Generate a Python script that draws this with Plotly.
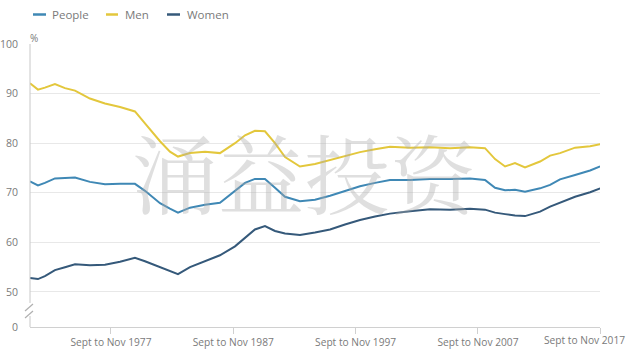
import plotly.graph_objects as go

# decimal-year positions of the readings (rolling 3-month periods)
years = [1971.17, 1971.82, 1972.39, 1973.21, 1974.03, 1974.85, 1976.07, 1977.30, 1978.53, 1979.75,
         1980.57, 1981.80, 1982.61, 1983.27, 1984.25, 1985.48, 1986.70, 1987.93, 1988.75, 1989.56,
         1990.38, 1991.20, 1992.02, 1993.24, 1994.47, 1995.70, 1996.92, 1998.15, 1999.38, 2000.60,
         2002.24, 2003.87, 2005.51, 2007.14, 2008.37, 2009.19, 2010.01, 2010.82, 2011.64, 2012.87,
         2013.69, 2014.50, 2015.73, 2016.96, 2017.78]

men = [92.1, 90.8, 91.2, 91.9, 91.1, 90.6, 89.0, 88.0, 87.3, 86.4,
       84.0, 80.4, 78.3, 77.3, 78.0, 78.3, 78.0, 80.0, 81.6, 82.5,
       82.4, 80.0, 77.2, 75.3, 75.8, 76.6, 77.3, 78.2, 78.8, 79.3,
       79.1, 79.2, 79.0, 79.2, 79.0, 76.8, 75.3, 76.0, 75.1, 76.3,
       77.5, 78.0, 79.1, 79.4, 79.8]

people = [72.3, 71.5, 72.0, 72.9, 73.0, 73.1, 72.2, 71.7, 71.8, 71.8,
          70.4, 67.9, 66.8, 66.0, 67.0, 67.6, 68.0, 70.4, 72.0, 72.8,
          72.8, 71.0, 69.2, 68.3, 68.6, 69.4, 70.4, 71.3, 72.0, 72.6,
          72.6, 72.8, 72.8, 72.9, 72.6, 71.0, 70.5, 70.6, 70.2, 70.9,
          71.6, 72.7, 73.6, 74.5, 75.3]

women = [52.8, 52.6, 53.2, 54.4, 55.0, 55.6, 55.4, 55.5, 56.1, 56.9,
         56.2, 55.0, 54.3, 53.6, 55.0, 56.2, 57.4, 59.2, 61.0, 62.6,
         63.3, 62.3, 61.8, 61.5, 62.0, 62.6, 63.6, 64.5, 65.2, 65.8,
         66.3, 66.7, 66.6, 66.8, 66.6, 66.0, 65.7, 65.4, 65.3, 66.2,
         67.2, 68.0, 69.2, 70.1, 70.9]

x_tick_vals = [1977.79, 1987.79, 1997.79, 2007.79, 2017.77]
x_tick_text = ["Sept to Nov 1977", "Sept to Nov 1987", "Sept to Nov 1997",
               "Sept to Nov 2007", "Sept to Nov 2017"]

# broken y axis: "0" drawn just below 50
ZERO_POS = 42.94
y_tick_vals = [ZERO_POS, 50, 60, 70, 80, 90, 100]
y_tick_text = ["0", "50", "60", "70", "80", "90", "100"]

series_names = ["People", "Men", "Women"]
colors = ["#3f88b5", "#e3c73c", "#35597a"]
series = [people, men, women]

FONT = "Open Sans, Noto Sans, sans-serif"
GREY = "#7a7a7a"

fig = go.Figure()
for name, col, vals in zip(series_names, colors, series):
    fig.add_trace(go.Scatter(x=years, y=vals, mode="lines", name=name,
                             line=dict(color=col, width=2), showlegend=False,
                             hoverinfo="skip"))

W, H = 640, 356
ML, MR, MT, MB = 30, 40, 44, 29
pw = W - ML - MR
ph = H - MT - MB

def px2paper(px):
    return (px - ML) / pw

def py2paper(py):
    return 1 - (py - MT) / ph

shapes = []
annotations = []
# manual legend
leg = [(33, 46, 52), (106, 118, 125), (167, 180, 187)]
for (x0, x1, tx), name, col in zip(leg, series_names, colors):
    shapes.append(dict(type="line", xref="paper", yref="paper",
                       x0=px2paper(x0), x1=px2paper(x1),
                       y0=py2paper(14.5), y1=py2paper(14.5),
                       line=dict(color=col, width=2.5)))
    annotations.append(dict(text=name, xref="paper", yref="paper",
                            x=px2paper(tx - 2), y=py2paper(14.5),
                            xanchor="left", yanchor="middle", showarrow=False,
                            font=dict(family=FONT, size=11.5, color=GREY)))

# "%" unit label
annotations.append(dict(text="%", xref="paper", yref="paper", x=px2paper(28),
                        y=py2paper(38), xanchor="left", yanchor="middle",
                        showarrow=False, font=dict(family=FONT, size=10, color=GREY)))

# last x tick label sits left of its tick so it stays inside the picture
TICK_FONT = 10.2
annotations.append(dict(text=x_tick_text[-1], xref="paper", yref="paper",
                        x=px2paper(584), y=py2paper(340), xanchor="center", yanchor="middle",
                        showarrow=False, font=dict(family=FONT, size=TICK_FONT, color=GREY)))
x_tick_labels = x_tick_text[:-1] + [""]

# y axis line with break
def py2val(py):
    return 50 - (py - 292) / 4.96

shapes.append(dict(type="line", xref="paper", yref="y", x0=0, x1=0, y0=100, y1=py2val(303),
                   line=dict(color="#c8c8c8", width=1)))
shapes.append(dict(type="line", xref="paper", yref="y", x0=0, x1=0, y0=py2val(316), y1=ZERO_POS,
                   line=dict(color="#c8c8c8", width=1)))
for off in (0, 7):
    shapes.append(dict(type="line", xref="paper", yref="y",
                       x0=px2paper(25), x1=px2paper(33),
                       y0=py2val(311 + off), y1=py2val(304 + off),
                       line=dict(color="#b0b0b0", width=1.2)))

# watermark
annotations.append(dict(text="涌益投资", xref="paper", yref="paper",
                        x=px2paper(305), y=py2paper(171),
                        xanchor="center", yanchor="middle", showarrow=False,
                        font=dict(family="Noto Serif CJK SC, Noto Sans CJK SC", size=86,
                                  color="rgba(170,170,170,0.38)")))

fig.update_layout(
    width=W, height=H,
    margin=dict(l=ML, r=MR, t=MT, b=MB, autoexpand=False),
    paper_bgcolor="white", plot_bgcolor="white",
    font=dict(family=FONT, size=11, color=GREY),
    shapes=shapes, annotations=annotations,
    hovermode=False,
    xaxis=dict(range=[1971.17, 2017.77], tickvals=x_tick_vals, ticktext=x_tick_labels,
               showgrid=False, zeroline=False, showline=True, linecolor="#d0d0d0",
               ticks="outside", ticklen=6, tickcolor="#d0d0d0", automargin=False,
               tickfont=dict(family=FONT, size=TICK_FONT, color=GREY)),
    yaxis=dict(range=[ZERO_POS, 100], tickvals=y_tick_vals, ticktext=y_tick_text,
               showgrid=True, gridcolor="#e8e8e8", zeroline=False, showline=False,
               ticks="", ticklabelstandoff=11, automargin=False,
               tickfont=dict(family=FONT, size=10.5, color=GREY)),
)

fig.write_html("out.html", config={"displayModeBar": False, "staticPlot": True},
               post_script="document.body.style.margin='0';document.body.style.overflow='hidden';")
